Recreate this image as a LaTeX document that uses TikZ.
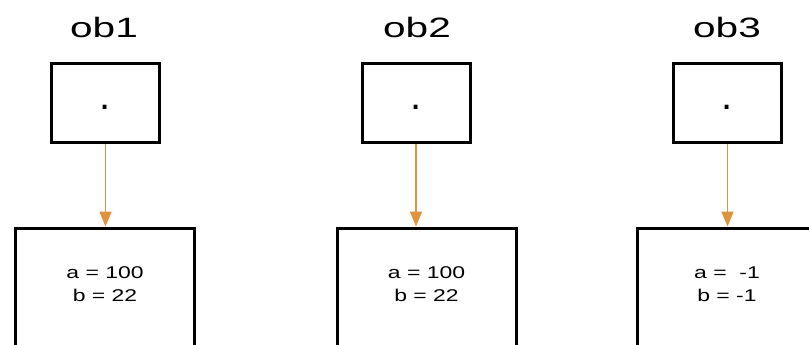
\documentclass[tikz,border=0pt]{standalone}
\usepackage{fontspec}
\setmainfont{Liberation Sans}
\usetikzlibrary{arrows.meta}
\definecolor{arr}{HTML}{E0923C}
\begin{document}
\begin{tikzpicture}[x=1pt,y=-1pt,
  ptr/.style={draw=black,line width=3pt,minimum width=108pt,minimum height=79pt,inner sep=0pt,
    font=\fontsize{40}{40}\selectfont,text height=13pt,text depth=0pt},
  objbox/.style={draw=black,line width=3pt,minimum width=179pt,minimum height=220pt,anchor=north,inner sep=0pt},
  title/.style={font=\fontsize{28}{30}\selectfont,inner sep=0pt,anchor=base},
  val/.style={font=\fontsize{17}{23}\selectfont,align=center,inner sep=0pt},
  link/.style={draw=arr,line width=1.5pt,-{Triangle[width=12pt,length=15pt]}}]
\useasboundingbox (0,0) rectangle (809,345);
\clip (0,0) rectangle (809,345);
\fill[white] (0,0) rectangle (809,345);
% titles
\node[title] (t1) at (104,38) {\scalebox{1.45}[1]{ob1}};
\node[title] (t2) at (417,38) {\scalebox{1.45}[1]{ob2}};
\node[title] (t3) at (727,38) {\scalebox{1.45}[1]{ob3}};
% reference boxes
\node[ptr] (p1) at (105.5,103) {.};
\node[ptr] (p2) at (416,103) {.};
\node[ptr] (p3) at (727.5,103) {.};
% object boxes
\node[objbox] (o1) at (105,226.5) {};
\node[objbox] (o2) at (426.5,226.5) {};
\node[objbox] (o3) at (727,226.5) {};
% values
\node[val] (v1) at (105,284) {\scalebox{1.35}[1]{a = 100}\\\scalebox{1.35}[1]{b = 22}};
\node[val] (v2) at (426.5,284) {\scalebox{1.35}[1]{a = 100}\\\scalebox{1.35}[1]{b = 22}};
\node[val] (v3) at (727,284) {\scalebox{1.35}[1]{a =\ \ -1}\\\scalebox{1.35}[1]{b = -1}};
% links
\draw[link] (p1.south) -- (p1.south |- o1.north);
\draw[link] (p2.south) -- (p2.south |- o2.north);
\draw[link] (p3.south) -- (p3.south |- o3.north);
\end{tikzpicture}
\end{document}
